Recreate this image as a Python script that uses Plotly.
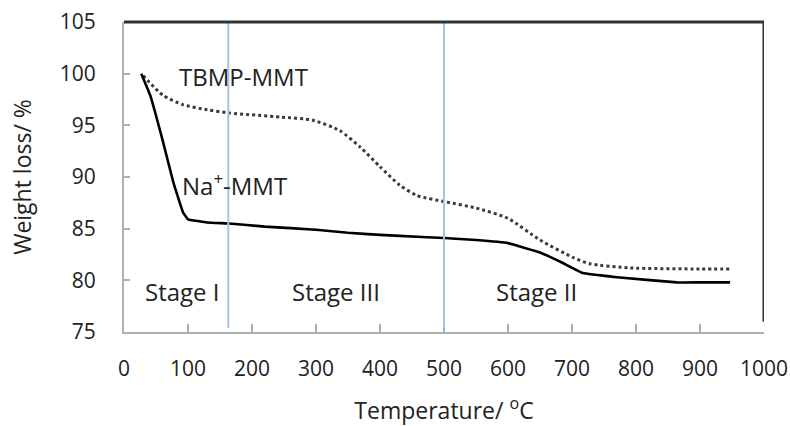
import plotly.graph_objects as go

# Na+-MMT (solid)
na_temp = [27, 41, 61, 77, 92, 100, 130, 164, 220, 300, 350, 400, 431, 500, 550, 600, 650, 685, 717, 770, 864, 900, 947]
na_wt   = [100.0, 97.9, 93.4, 89.5, 86.6, 85.9, 85.6, 85.5, 85.2, 84.9, 84.6, 84.4, 84.3, 84.1, 83.9, 83.6, 82.7, 81.7, 80.7, 80.3, 79.8, 79.8, 79.8]

# TBMP-MMT (dotted)
tb_temp = [30, 61, 92, 130, 164, 245, 295, 337, 369, 400, 431, 458, 502, 550, 600, 650, 702, 728, 790, 900, 947]
tb_wt   = [99.8, 97.9, 97.0, 96.5, 96.2, 95.8, 95.5, 94.5, 92.9, 91.0, 89.2, 88.2, 87.6, 87.0, 86.0, 83.9, 82.2, 81.6, 81.2, 81.1, 81.1]

x_ticks = [0, 100, 200, 300, 400, 500, 600, 700, 800, 900, 1000]
y_ticks = [75, 80, 85, 90, 95, 100, 105]

stage_bounds = [163, 500]
labels = [
    ("TBMP-MMT", 186, 99.7),
    ("Na<sup>+</sup>-MMT", 172, 89.3),
    ("Stage I", 91, 78.9),
    ("Stage III", 331, 78.9),
    ("Stage II", 644, 78.9),
]

FONT = "Open Sans"

fig = go.Figure()
fig.add_trace(go.Scatter(x=tb_temp, y=tb_wt, mode="lines",
                         line=dict(color="#3a3a3a", width=3, dash="dot", shape="spline", smoothing=0.6),
                         name="TBMP-MMT", showlegend=False))
fig.add_trace(go.Scatter(x=na_temp, y=na_wt, mode="lines",
                         line=dict(color="black", width=2.6, shape="spline", smoothing=0.2),
                         name="Na+-MMT", showlegend=False))

shapes = []
for b in stage_bounds:
    shapes.append(dict(type="line", xref="x", yref="y", x0=b, x1=b, y0=75.4, y1=105,
                       line=dict(color="#9ec5e8", width=2)))
shapes.append(dict(type="line", xref="paper", yref="paper", x0=0, x1=1, y0=1, y1=1,
                   line=dict(color="#333333", width=3)))
shapes.append(dict(type="line", xref="x", yref="y", x0=1000, x1=1000, y0=76, y1=105,
                   line=dict(color="#333333", width=3)))

annotations = [dict(text=t, x=x, y=y, xref="x", yref="y", showarrow=False,
                    font=dict(family=FONT, size=24, color="#222222"))
               for t, x, y in labels]

fig.update_layout(
    width=790, height=426,
    margin=dict(l=124, r=26, t=22, b=94, autoexpand=False),
    paper_bgcolor="white", plot_bgcolor="white",
    shapes=shapes, annotations=annotations,
    font=dict(family=FONT, color="#222222"),
)
fig.update_xaxes(range=[0, 1000], tickvals=x_ticks, ticks="inside", ticklen=8, tickwidth=2,
                 tickcolor="#b0b0b0", showline=True, linecolor="#b0b0b0", linewidth=2,
                 showgrid=False, zeroline=False, tickfont=dict(size=21, family=FONT),
                 ticklabelstandoff=17, automargin=False,
                 title=dict(text="Temperature/ <sup>o</sup>C", font=dict(size=23, family=FONT), standoff=24))
fig.update_yaxes(range=[75, 105], tickvals=y_ticks, ticks="inside", ticklen=6, tickwidth=2,
                 tickcolor="#b0b0b0", showline=True, linecolor="#b0b0b0", linewidth=2,
                 showgrid=False, zeroline=False, tickfont=dict(size=21, family=FONT),
                 ticklabelstandoff=22, automargin=False,
                 title=dict(text="Weight loss/ %", font=dict(size=23, family=FONT), standoff=22))

fig.write_html("out.html")
